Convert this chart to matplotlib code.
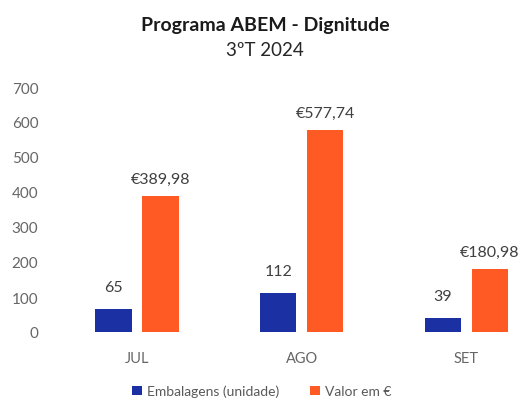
import matplotlib.pyplot as plt
import numpy as np

meses = ['JUL', 'AGO', 'SET']
embalagens = [65, 112, 39]
valores = [389.98, 577.74, 180.98]
rotulos_valor = ['€389,98', '€577,74', '€180,98']
ticks_y = [0, 100, 200, 300, 400, 500, 600, 700]

azul = '#1a30a3'
laranja = '#ff5a24'

plt.rcParams['font.family'] = ['Lato', 'DejaVu Sans']

fig = plt.figure(figsize=(5.30, 4.06), dpi=100)
ax = fig.add_axes([55 / 530, 1 - 333 / 406, 475 / 530, 245 / 406])

x = np.arange(len(meses))
desl = 0.143
larg = 0.22
b1 = ax.bar(x - desl, embalagens, larg, color=azul, label='Embalagens (unidade)')
b2 = ax.bar(x + desl, valores, larg, color=laranja, label='Valor em €')

for r, v in zip(b1, embalagens):
    ax.annotate(str(v), (r.get_x() + r.get_width() / 2, r.get_height()),
                xytext=(0, 11), textcoords='offset points', ha='center',
                va='bottom', fontsize=11.5, color='#404040')
for r, t in zip(b2, rotulos_valor):
    ax.annotate(t, (r.get_x() + r.get_width() / 2, r.get_height()),
                xytext=(0, 7), textcoords='offset points', ha='center',
                va='bottom', fontsize=11.5, color='#404040')

ax.set_xlim(-0.498, 2.386)
ax.set_ylim(0, 700)
ax.set_yticks(ticks_y)
ax.set_xticks(x)
ax.set_xticklabels(meses)
ax.tick_params(axis='both', length=0, colors='#666666')
ax.tick_params(axis='x', pad=14, labelsize=10.5)
ax.tick_params(axis='y', pad=12, labelsize=11)
for s in ax.spines.values():
    s.set_visible(False)

fig.text(0.5, 1 - 25 / 406, 'Programa ABEM - Dignitude', ha='center', va='center',
         fontsize=14, fontweight='bold', color='#1a1a1a')
fig.text(0.5, 1 - 51 / 406, '3ºT 2024', ha='center', va='center',
         fontsize=13.5, color='#262626')

fig.legend(loc='center', bbox_to_anchor=(262 / 530, 1 - 392 / 406), ncol=2,
           frameon=False, fontsize=10, handlelength=0.7, handleheight=0.7,
           handletextpad=0.4, columnspacing=2.2, labelcolor='#595959')

fig.savefig('out.png', dpi=100)
